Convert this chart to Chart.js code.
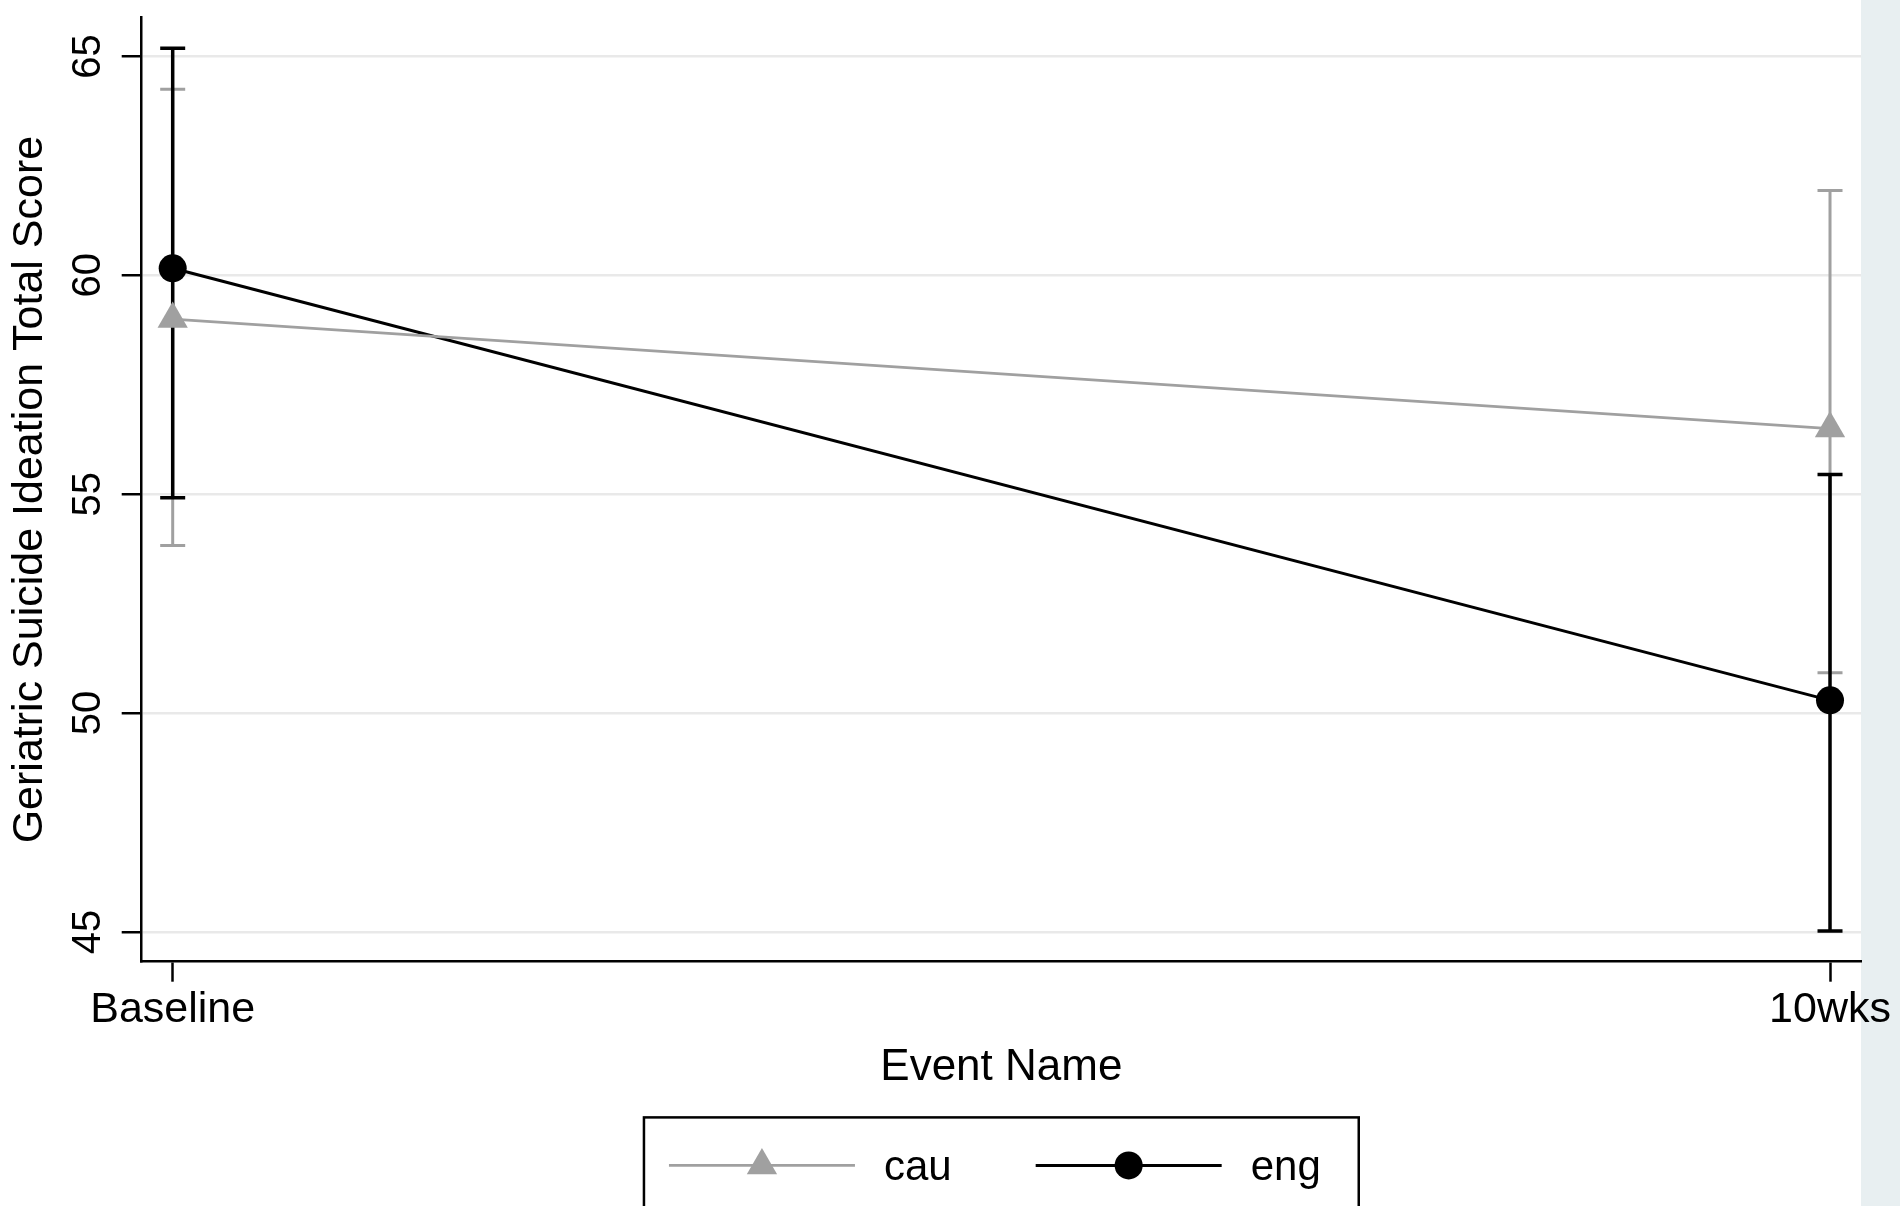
<!DOCTYPE html>
<html>
<head>
<meta charset="utf-8">
<script src="https://cdn.jsdelivr.net/npm/chart.js@4.4.1/dist/chart.umd.min.js"></script>
<style>
  html, body { margin: 0; padding: 0; background: #fff; overflow: hidden; }
  #wrap { width: 1900px; height: 1206px; }
</style>
</head>
<body>
<div id="wrap"><canvas id="grafico" width="1900" height="1206"></canvas></div>
<script>
// valores
var categories = ['Baseline', '10wks'];
var cauMean  = [59.0, 56.5];
var cauLower = [53.83, 50.92];
var cauUpper = [64.25, 61.94];
var engMean  = [60.16, 50.29];
var engLower = [54.92, 45.02];
var engUpper = [65.19, 55.45];
var yTicks = [45, 50, 55, 60, 65];

var GRAY = '#a0a0a0';
var BLACK = '#000000';
var FONT = "'Liberation Sans', Arial, Helvetica, sans-serif";

Chart.defaults.font.family = FONT;
Chart.defaults.color = '#000';

function toPoints(vals) {
    return categories.map(function(c, i) { return { x: i, y: vals[i] }; });
}

function drawMarker(ctx, style, x, y, r, color) {
    ctx.save();
    ctx.fillStyle = color;
    ctx.beginPath();
    if (style === 'triangle') {
        ctx.moveTo(x, y - r);
        ctx.lineTo(x + Math.sin(2 * Math.PI / 3) * r, y + r / 2);
        ctx.lineTo(x - Math.sin(2 * Math.PI / 3) * r, y + r / 2);
        ctx.closePath();
    } else {
        ctx.arc(x, y, r, 0, Math.PI * 2);
    }
    ctx.fill();
    ctx.restore();
}

// fundo branco + faixa cinza-azulada a direita
var fundoPlugin = {
    id: 'fundo',
    beforeDraw: function(chart) {
        var ctx = chart.ctx;
        ctx.save();
        ctx.fillStyle = '#ffffff';
        ctx.fillRect(0, 0, chart.width, chart.height);
        ctx.fillStyle = '#e8eff1';
        ctx.fillRect(chart.chartArea.right, 0, chart.width - chart.chartArea.right, chart.height);
        ctx.restore();
    }
};

// barras de erro (IC) desenhadas pelas escalas
var erroPlugin = {
    id: 'erro',
    beforeDatasetsDraw: function(chart) {
        var ctx = chart.ctx;
        var xs = chart.scales.x, ys = chart.scales.y;
        chart.data.datasets.forEach(function(ds) {
            ctx.save();
            ctx.strokeStyle = ds.borderColor;
            ctx.lineWidth = ds.errWidth;
            ds.errLow.forEach(function(lo, i) {
                var x = xs.getPixelForValue(i);
                var y1 = ys.getPixelForValue(lo);
                var y2 = ys.getPixelForValue(ds.errHigh[i]);
                ctx.beginPath();
                ctx.moveTo(x, y1); ctx.lineTo(x, y2);
                ctx.moveTo(x - 12.5, y1); ctx.lineTo(x + 12.5, y1);
                ctx.moveTo(x - 12.5, y2); ctx.lineTo(x + 12.5, y2);
                ctx.stroke();
            });
            ctx.restore();
        });
    }
};

// rotulos do eixo y girados + legenda com moldura
var textoPlugin = {
    id: 'texto',
    afterDraw: function(chart) {
        var ctx = chart.ctx;
        var ys = chart.scales.y, xs = chart.scales.x;
        ctx.save();
        ctx.fillStyle = '#000';
        ctx.font = '40px ' + FONT;
        ctx.textAlign = 'center';
        ctx.textBaseline = 'alphabetic';
        ys.ticks.forEach(function(t) {
            var y = ys.getPixelForValue(t.value);
            ctx.save();
            ctx.translate(ys.right - 42, y);
            ctx.rotate(-Math.PI / 2);
            ctx.fillText(String(t.value), 0, 0);
            ctx.restore();
        });
        ctx.restore();

        // legenda
        var lineLen = 186, gapText = 29, itemGap = 84, padL = 25, padR = 38;
        ctx.save();
        ctx.font = '42px ' + FONT;
        var itens = chart.data.datasets.map(function(ds) {
            return { ds: ds, w: ctx.measureText(ds.label).width };
        });
        var contentW = 0;
        itens.forEach(function(it, i) {
            contentW += lineLen + gapText + it.w + (i > 0 ? itemGap : 0);
        });
        var frameW = padL + contentW + padR;
        var cx = (chart.chartArea.left + chart.chartArea.right) / 2;
        var frameX = cx - frameW / 2;
        var frameY = xs.bottom + 23;
        ctx.strokeStyle = '#000';
        ctx.lineWidth = 2.5;
        ctx.strokeRect(frameX, frameY, frameW, 96);
        var lineY = frameY + 48;
        var x = frameX + padL;
        itens.forEach(function(it) {
            var ds = it.ds;
            ctx.strokeStyle = ds.borderColor;
            ctx.lineWidth = ds.borderWidth;
            ctx.beginPath();
            ctx.moveTo(x, lineY); ctx.lineTo(x + lineLen, lineY);
            ctx.stroke();
            drawMarker(ctx, ds.pointStyle, x + lineLen / 2, lineY, ds.pointRadius, ds.borderColor);
            ctx.fillStyle = '#000';
            ctx.textAlign = 'left';
            ctx.textBaseline = 'middle';
            ctx.fillText(ds.label, x + lineLen + gapText, lineY + 3);
            x += lineLen + gapText + it.w + itemGap;
        });
        ctx.restore();
    }
};

var ctx = document.getElementById('grafico').getContext('2d');
var grafico = new Chart(ctx, {
    type: 'line',
    data: {
        datasets: [{
            label: 'cau',
            data: toPoints(cauMean),
            errLow: cauLower,
            errHigh: cauUpper,
            errWidth: 3,
            borderColor: GRAY,
            backgroundColor: GRAY,
            borderWidth: 2.8,
            pointStyle: 'triangle',
            pointRadius: 17.5,
            pointBackgroundColor: GRAY,
            pointBorderWidth: 0,
            tension: 0
        }, {
            label: 'eng',
            data: toPoints(engMean),
            errLow: engLower,
            errHigh: engUpper,
            errWidth: 3.5,
            borderColor: BLACK,
            backgroundColor: BLACK,
            borderWidth: 3,
            pointStyle: 'circle',
            pointRadius: 14,
            pointBackgroundColor: BLACK,
            pointBorderWidth: 0,
            tension: 0
        }]
    },
    options: {
        responsive: false,
        animation: false,
        layout: { padding: { top: 8.3, right: 39, bottom: 111.6, left: 0 } },
        plugins: {
            legend: { display: false },
            tooltip: { enabled: false }
        },
        scales: {
            x: {
                type: 'linear',
                min: -0.0187,
                max: 1.0187,
                afterBuildTicks: function(s) {
                    s.ticks = categories.map(function(c, i) { return { value: i }; });
                },
                ticks: {
                    callback: function(v) { return categories[v]; },
                    font: { size: 43 },
                    padding: 2.6,
                    maxRotation: 0,
                    color: '#000'
                },
                grid: {
                    drawOnChartArea: false,
                    drawTicks: true,
                    tickLength: 20,
                    tickColor: '#000',
                    tickWidth: 2.5
                },
                border: { display: true, color: '#000', width: 2.5 },
                title: {
                    display: true,
                    text: 'Event Name',
                    font: { size: 44 },
                    padding: { top: 3.1, bottom: 0 },
                    color: '#000'
                }
            },
            y: {
                min: 44.32,
                max: 65.89,
                afterBuildTicks: function(s) {
                    s.ticks = yTicks.map(function(v) { return { value: v }; });
                },
                afterFit: function(s) { s.width = 141.7; },
                ticks: { display: false },
                grid: {
                    color: '#e9e9e9',
                    lineWidth: 2.5,
                    drawTicks: true,
                    tickLength: 20,
                    tickColor: '#000',
                    tickWidth: 2.5
                },
                border: { display: true, color: '#000', width: 2.5 },
                title: {
                    display: true,
                    text: 'Geriatric Suicide Ideation Total Score',
                    font: { size: 43 },
                    padding: { top: 4, bottom: 0 },
                    color: '#000'
                }
            }
        }
    },
    plugins: [fundoPlugin, erroPlugin, textoPlugin]
});
</script>
</body>
</html>
